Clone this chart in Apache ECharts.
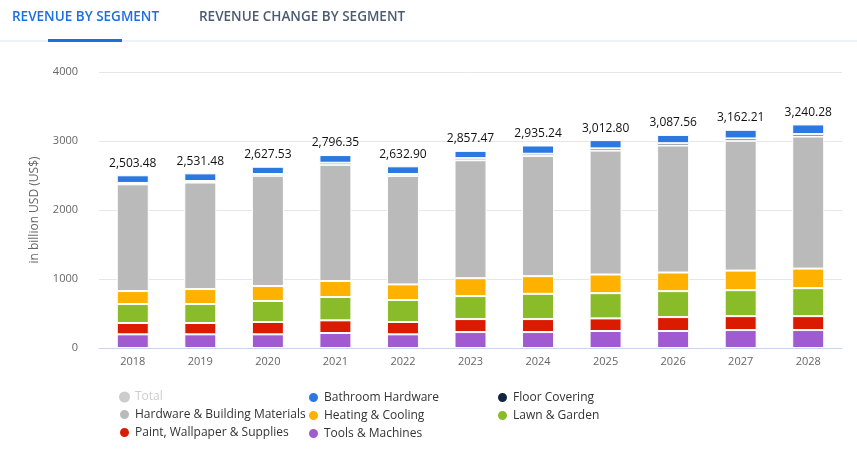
<!DOCTYPE html>
<html>
<head>
<meta charset="utf-8">
<script src="https://cdn.jsdelivr.net/npm/echarts@6/dist/echarts.min.js"></script>
<style>
  html, body { margin: 0; padding: 0; background: #fff; }
  #main { width: 857px; height: 450px; }
</style>
</head>
<body>
<div id="main"></div>
<script>
var years = ['2018', '2019', '2020', '2021', '2022', '2023', '2024', '2025', '2026', '2027', '2028'];
var totals = [2503.48, 2531.48, 2627.53, 2796.35, 2632.90, 2857.47, 2935.24, 3012.80, 3087.56, 3162.21, 3240.28];
var tools = [198, 198, 198, 217, 198, 231, 231, 246, 246, 260, 260];
var paint = [164, 164, 179, 184, 179, 188, 188, 183, 202, 202, 202];
var lawn = [275, 275, 304, 338, 318, 333, 366, 366, 376, 376, 405];
var heating = [188, 217, 217, 232, 227, 260, 256, 270, 270, 284, 284];
var hardware = [1547, 1544, 1598, 1684, 1572, 1709, 1743, 1796, 1841, 1881, 1914];
var floor = [20, 22, 25, 30, 28, 30, 31, 32, 33, 34, 35];
var bathroom = [111, 111, 106, 111, 111, 106, 120, 120, 120, 125, 140];
var yTicks = [0, 1000, 2000, 3000, 4000];

var myChart = echarts.init(document.getElementById('main'));

function segment(name, data, color) {
  return {
    name: name,
    type: 'bar',
    stack: 'rev',
    data: data,
    barWidth: 32,
    itemStyle: { color: color, borderColor: '#fff', borderWidth: 1 }
  };
}

function fmt(v) {
  return v.toLocaleString('en-US', { minimumFractionDigits: 2, maximumFractionDigits: 2 });
}

// totals shown above the top segment
var topSeries = segment('Bathroom Hardware', bathroom, '#2a78e0');
topSeries.label = {
  show: true,
  position: 'top',
  distance: 6,
  color: '#111',
  fontSize: 12,
  fontFamily: 'Open Sans',
  formatter: function (p) { return fmt(totals[p.dataIndex]); }
};

var legendText = { color: '#333', fontSize: 12, fontFamily: 'Open Sans' };
function legendCol(left, names) {
  return {
    orient: 'vertical',
    left: left,
    top: 386,
    itemWidth: 11,
    itemHeight: 11,
    itemGap: 5,
    icon: 'circle',
    inactiveColor: '#ccc',
    textStyle: legendText,
    data: names,
    selected: { 'Total': false }
  };
}

var option = {
  animation: false,
  textStyle: { fontFamily: 'Open Sans' },
  grid: { left: 99, right: 15, top: 72, bottom: 102 },
  graphic: [
    { type: 'rect', shape: { x: 0, y: 40, width: 857, height: 2 }, style: { fill: '#eef2f7' } },
    { type: 'rect', shape: { x: 48, y: 39, width: 74, height: 3 }, style: { fill: '#1a6fe3' } },
    { type: 'text', left: 12, top: 10, style: { text: 'REVENUE BY SEGMENT', fill: '#1a6fe3', fontSize: 13.5, fontWeight: 600, fontFamily: 'Open Sans' } },
    { type: 'text', left: 199, top: 10, style: { text: 'REVENUE CHANGE BY SEGMENT', fill: '#4b5b73', fontSize: 13.5, fontWeight: 600, fontFamily: 'Open Sans' } }
  ],
  legend: [
    legendCol(113, ['Total', 'Hardware & Building Materials', 'Paint, Wallpaper & Supplies']),
    legendCol(302, ['Bathroom Hardware', 'Heating & Cooling', 'Tools & Machines']),
    legendCol(491, ['Floor Covering', 'Lawn & Garden'])
  ],
  xAxis: {
    type: 'category',
    data: years,
    axisLine: { lineStyle: { color: '#ccd6eb' } },
    axisTick: { alignWithLabel: true, length: 6, lineStyle: { color: '#ccd6eb' } },
    axisLabel: { color: '#666', fontSize: 11, margin: 8 }
  },
  yAxis: {
    type: 'value',
    min: yTicks[0],
    max: yTicks[yTicks.length - 1],
    interval: 1000,
    name: 'in billion USD (US$)',
    nameLocation: 'middle',
    nameGap: 58,
    nameTextStyle: { color: '#666', fontSize: 12 },
    axisLabel: { color: '#666', fontSize: 11, margin: 21, formatter: function (v) { return String(v); } },
    splitLine: { lineStyle: { color: '#e6e6e6' } }
  },
  series: [
    { name: 'Total', type: 'line', data: totals, itemStyle: { color: '#bbb' }, lineStyle: { opacity: 0 }, symbolSize: 0 },
    segment('Tools & Machines', tools, '#a05bd0'),
    segment('Paint, Wallpaper & Supplies', paint, '#db1b00'),
    segment('Lawn & Garden', lawn, '#8abb28'),
    segment('Heating & Cooling', heating, '#ffb100'),
    segment('Hardware & Building Materials', hardware, '#bababa'),
    segment('Floor Covering', floor, '#0f2540'),
    topSeries
  ]
};

myChart.setOption(option);
</script>
</body>
</html>
